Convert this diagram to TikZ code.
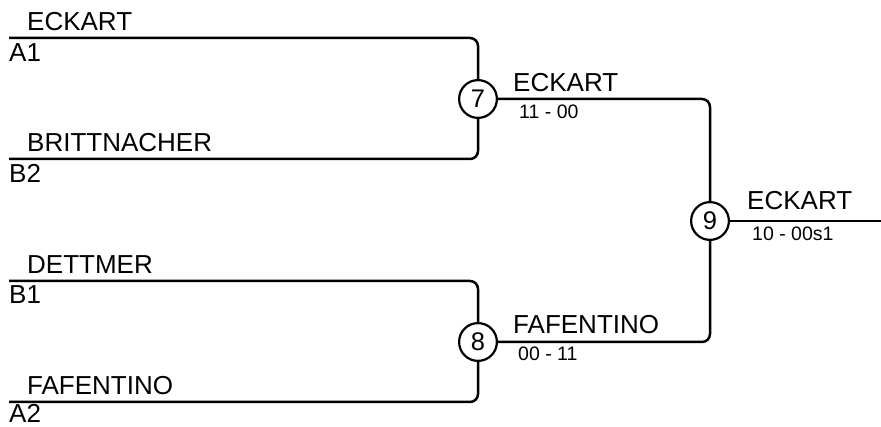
\documentclass[tikz,border=0pt]{standalone}
\usepackage{fontspec}
\setmainfont{Liberation Sans}
\begin{document}
\begin{tikzpicture}[x=1pt,y=-1pt,
  wire/.style={line width=2.5pt,rounded corners=8pt},
  circ/.style={circle,draw,line width=2.2pt,minimum size=37.8pt,inner sep=0pt,font=\fontsize{25.5}{28}\selectfont},
  pname/.style={anchor=base west,inner sep=0pt,font=\fontsize{26}{30}\selectfont},
  seed/.style={anchor=base west,inner sep=0pt,font=\fontsize{26}{30}\selectfont},
  score/.style={anchor=base west,inner sep=0pt,font=\fontsize{19.5}{23}\selectfont}]
\useasboundingbox (0,0) rectangle (881,427);
% entrants
\coordinate (a1) at (9,38);
\coordinate (b2) at (9,159);
\coordinate (b1) at (9,281);
\coordinate (a2) at (9,402);
\coordinate (out) at (881,221);
% matches
\node[circ] (m7) at (478,99) {7};
\node[circ] (m8) at (478,342) {8};
\node[circ] (m9) at (710,221) {9};
% wires
\draw[wire] (a1) -| (m7);
\draw[wire] (b2) -| (m7);
\draw[wire] (b1) -| (m8);
\draw[wire] (a2) -| (m8);
\draw[wire] (m7) -| (m9);
\draw[wire] (m8) -| (m9);
\draw[wire] (m9) -- (out);
% names
\node[pname] (t1) at (27,31) {ECKART};
\node[seed] (s1) at (9,62) {A1};
\node[pname] (t2) at (27,152) {BRITTNACHER};
\node[seed] (s2) at (9,183) {B2};
\node[pname] (t3) at (27,274) {DETTMER};
\node[seed] (s3) at (9,304) {B1};
\node[pname] (t4) at (27,395) {FAFENTINO};
\node[seed] (s4) at (9,423) {A2};
\node[pname] (w7) at (513,92) {ECKART};
\node[score] (r7) at (519,119) {11 - 00};
\node[pname] (w8) at (513,334) {FAFENTINO};
\node[score] (r8) at (518,361) {00 - 11};
\node[pname] (w9) at (747,210) {ECKART};
\node[score] (r9) at (752,241) {10 - 00s1};
\end{tikzpicture}
\end{document}
